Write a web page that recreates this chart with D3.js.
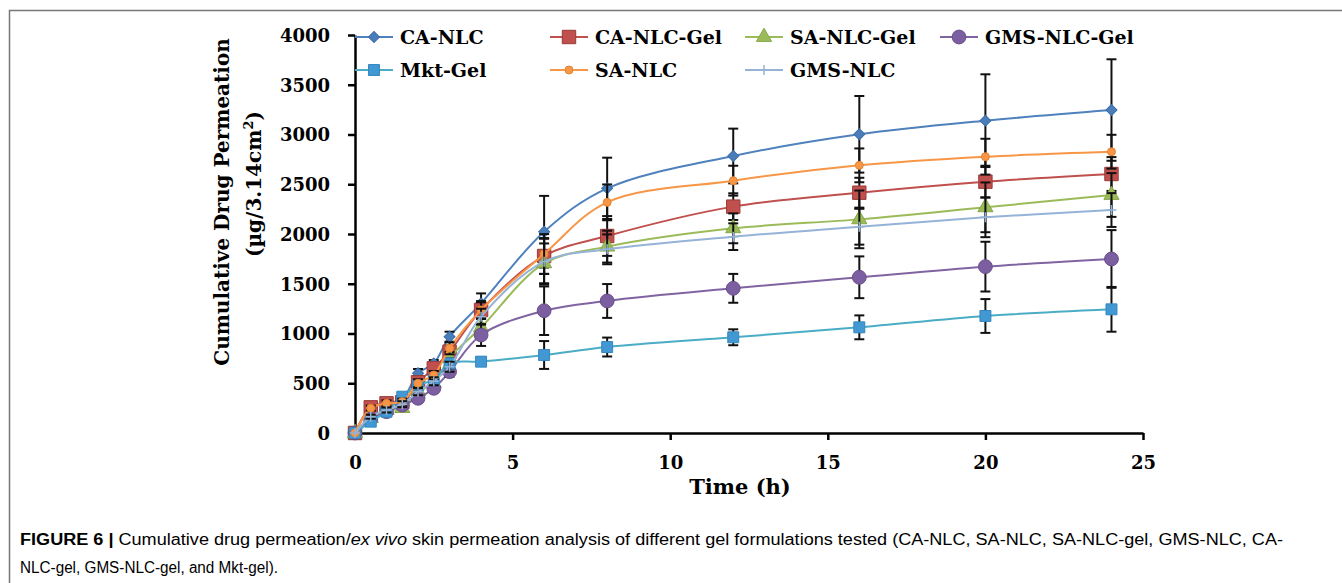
<!DOCTYPE html>
<html>
<head>
<meta charset="utf-8">
<script src="https://cdn.jsdelivr.net/npm/d3@7"></script>
<style>
  body { margin: 0; background: #ffffff; }
  svg text { fill: #000; }
</style>
</head>
<body>
<div id="container"></div>
<script>
  // data
  const times = [0, 0.5, 1, 1.5, 2, 2.5, 3, 4, 6, 8, 12, 16, 20, 24]
  const xTicks = [0, 5, 10, 15, 20, 25]
  const yTicks = [0, 500, 1000, 1500, 2000, 2500, 3000, 3500, 4000]

  const caNlc = [0, 250, 300, 340, 600, 700, 968, 1303, 2023, 2459, 2784, 3002, 3139, 3246]
  const caNlcGel = [0, 258, 298, 310, 510, 650, 817, 1236, 1779, 1980, 2275, 2415, 2526, 2603]
  const saNlcGel = [0, 150, 230, 250, 420, 500, 754, 1060, 1705, 1873, 2057, 2147, 2268, 2392]
  const gmsNlcGel = [0, 140, 214, 281, 349, 449, 616, 985, 1229, 1327, 1454, 1565, 1672, 1749]
  const mktGel = [0, 114, 214, 365, 482, 533, 700, 717, 784, 864, 962, 1062, 1176, 1243]
  const saNlc = [0, 250, 298, 315, 500, 583, 851, 1236, 1799, 2318, 2536, 2690, 2777, 2827]
  const gmsNlc = [0, 164, 231, 290, 415, 520, 666, 1169, 1722, 1846, 1973, 2073, 2168, 2241]

  const caNlcErr = [0, 30, 30, 40, 43, 33, 50, 100, 360, 308, 275, 385, 466, 510]
  const caNlcGelErr = [0, 30, 30, 35, 40, 50, 60, 90, 180, 200, 134, 150, 160, 170]
  const saNlcGelErr = [0, 20, 25, 30, 35, 40, 60, 90, 200, 160, 150, 290, 250, 220]
  const gmsNlcGelErr = [0, 20, 25, 30, 35, 40, 50, 110, 244, 170, 145, 210, 250, 290]
  const mktGelErr = [0, 20, 25, 30, 35, 40, 50, 40, 140, 95, 80, 120, 170, 225]
  const saNlcErr = [0, 25, 30, 30, 40, 40, 60, 80, 200, 180, 150, 170, 180, 170]
  const gmsNlcErr = [0, 20, 25, 30, 35, 40, 50, 80, 230, 150, 134, 180, 200, 170]

  const seriesNames = ['CA-NLC', 'CA-NLC-Gel', 'SA-NLC-Gel', 'GMS-NLC-Gel', 'Mkt-Gel', 'SA-NLC', 'GMS-NLC']
  const seriesValues = [caNlc, caNlcGel, saNlcGel, gmsNlcGel, mktGel, saNlc, gmsNlc]
  const seriesErrors = [caNlcErr, caNlcGelErr, saNlcGelErr, gmsNlcGelErr, mktGelErr, saNlcErr, gmsNlcErr]

  // styles per series
  const styles = [
    { line: '#4f81bd', fill: '#4a7ebb', stroke: '#3d6da8', shape: 'diamond', size: 60 },
    { line: '#c0504d', fill: '#c0504d', stroke: '#9a3a37', shape: 'square', size: 180 },
    { line: '#9bbb59', fill: '#9bbb59', stroke: '#87a84a', shape: 'triangle', size: 100 },
    { line: '#8064a2', fill: '#7c5fa0', stroke: '#694e8a', shape: 'circle', size: 150 },
    { line: '#4bacc6', fill: '#4198d2', stroke: '#3488c0', shape: 'square', size: 120 },
    { line: '#f79646', fill: '#f79646', stroke: '#e5842f', shape: 'circle', size: 50 },
    { line: '#95b3d7', fill: 'none', stroke: '#95b3d7', shape: 'plus', size: 5 }
  ]

  const width = 1342
  const height = 583
  const serif = '"DejaVu Serif", serif'

  const svg = d3.select('#container')
    .append('svg')
    .attr('width', width)
    .attr('height', height)
    .style('background', '#ffffff')

  // figure frame (top + left edge)
  svg.append('path')
    .attr('d', `M9.5,${height}V10.5H${width}`)
    .attr('fill', 'none')
    .attr('stroke', '#777')
    .attr('stroke-width', 1.5)

  const xScale = d3.scaleLinear().domain([0, 25]).range([355, 1143])
  const yScale = d3.scaleLinear().domain([0, 4000]).range([433, 35])

  // axes
  const xAxis = svg.append('g')
    .attr('transform', `translate(0, ${yScale(0)})`)
    .call(d3.axisBottom(xScale).tickValues(xTicks).tickFormat(d3.format('d'))
      .tickSize(7).tickSizeOuter(0).tickPadding(16))
  const yAxis = svg.append('g')
    .attr('transform', `translate(${xScale(0)}, 0)`)
    .call(d3.axisLeft(yScale).tickValues(yTicks).tickFormat(d3.format('d'))
      .tickSize(7).tickSizeOuter(0).tickPadding(18))

  for (const ax of [xAxis, yAxis]) {
    ax.select('.domain').attr('stroke', '#000').attr('stroke-width', 2.5)
    ax.selectAll('.tick line').attr('stroke', '#000').attr('stroke-width', 2.5)
    ax.selectAll('.tick text')
      .attr('font-family', serif)
      .attr('font-weight', 'bold')
      .attr('font-size', 18)
      .attr('fill', '#000')
  }
  yAxis.selectAll('.tick text').attr('dy', '0.36em')

  // axis titles
  svg.append('text')
    .attr('x', 740)
    .attr('y', 494)
    .attr('text-anchor', 'middle')
    .attr('font-family', serif)
    .attr('font-weight', 'bold')
    .attr('font-size', 21)
    .text('Time (h)')

  svg.append('text')
    .attr('transform', 'translate(229, 202) rotate(-90)')
    .attr('text-anchor', 'middle')
    .attr('font-family', serif)
    .attr('font-weight', 'bold')
    .attr('font-size', 20)
    .text('Cumulative Drug Permeation')

  const yTitle2 = svg.append('text')
    .attr('transform', 'translate(261, 184) rotate(-90)')
    .attr('text-anchor', 'middle')
    .attr('font-family', serif)
    .attr('font-weight', 'bold')
    .attr('font-size', 20)
  yTitle2.append('tspan').text('(µg/3.14cm')
  yTitle2.append('tspan').attr('dy', -8).attr('font-size', 13).text('2')
  yTitle2.append('tspan').attr('dy', 8).text(')')

  const symbolPath = (st) => {
    if (st.shape === 'plus') return `M${-st.size},0H${st.size}M0,${-st.size}V${st.size}`
    const type = { diamond: d3.symbolSquare, square: d3.symbolSquare, triangle: d3.symbolTriangle, circle: d3.symbolCircle }[st.shape]
    return d3.symbol().type(type).size(st.size)()
  }
  const markRotate = (st) => (st.shape === 'diamond' ? ' rotate(45)' : '')

  const line = d3.line()
    .x((d) => xScale(d.t))
    .y((d) => yScale(d.v))
    .curve(d3.curveCatmullRom.alpha(0.5))

  const plot = svg.append('g')

  seriesNames.forEach((name, i) => {
    const st = styles[i]
    const pts = times.map((t, j) => ({ t: t, v: seriesValues[i][j], e: seriesErrors[i][j] }))
    const g = plot.append('g').attr('class', 'series')

    g.append('path')
      .datum(pts)
      .attr('d', line)
      .attr('fill', 'none')
      .attr('stroke', st.line)
      .attr('stroke-width', 2)

    // error bars
    const eb = g.selectAll('.err')
      .data(pts.filter((d) => d.e > 0))
      .enter()
      .append('g')
      .attr('class', 'err')
    eb.append('line')
      .attr('x1', (d) => xScale(d.t))
      .attr('x2', (d) => xScale(d.t))
      .attr('y1', (d) => yScale(d.v - d.e))
      .attr('y2', (d) => yScale(d.v + d.e))
      .attr('stroke', '#111')
      .attr('stroke-width', 2)
    for (const sgn of [1, -1]) {
      eb.append('line')
        .attr('x1', (d) => xScale(d.t) - 5)
        .attr('x2', (d) => xScale(d.t) + 5)
        .attr('y1', (d) => yScale(d.v + sgn * d.e))
        .attr('y2', (d) => yScale(d.v + sgn * d.e))
        .attr('stroke', '#111')
        .attr('stroke-width', 2)
    }

    g.selectAll('.mark')
      .data(pts)
      .enter()
      .append('path')
      .attr('class', 'mark')
      .attr('transform', (d) => `translate(${xScale(d.t)}, ${yScale(d.v)})${markRotate(st)}`)
      .attr('d', symbolPath(st))
      .attr('fill', st.fill)
      .attr('stroke', st.stroke)
      .attr('stroke-width', st.shape === 'plus' ? 1.5 : 1)
  })

  // legend
  const legendX = [355, 550, 745, 940]
  const legendY = [37, 70]
  seriesNames.forEach((name, i) => {
    const st = styles[i]
    const lx = legendX[i % 4]
    const ly = legendY[Math.floor(i / 4)]
    const lg = svg.append('g').attr('transform', `translate(${lx}, ${ly})`)
    lg.append('line')
      .attr('x1', 0).attr('x2', 38)
      .attr('stroke', st.line)
      .attr('stroke-width', 2)
    lg.append('path')
      .attr('transform', `translate(19, 0)${markRotate(st)}`)
      .attr('d', symbolPath(st))
      .attr('fill', st.fill)
      .attr('stroke', st.stroke)
      .attr('stroke-width', st.shape === 'plus' ? 1.5 : 1)
    lg.append('text')
      .attr('x', 45)
      .attr('dy', '0.36em')
      .attr('font-family', serif)
      .attr('font-weight', 'bold')
      .attr('font-size', 19)
      .text(name)
  })

  // caption
  const sans = '"Liberation Sans", Arial, sans-serif'
  const cap1 = svg.append('text')
    .attr('x', 20)
    .attr('y', 545)
    .attr('font-family', sans)
    .attr('font-size', 16)
    .attr('fill', '#222')
    .attr('textLength', 1263)
    .attr('lengthAdjust', 'spacingAndGlyphs')
  cap1.append('tspan').attr('font-weight', 'bold').text('FIGURE 6 | ')
  cap1.append('tspan').text('Cumulative drug permeation/')
  cap1.append('tspan').attr('font-style', 'italic').text('ex vivo')
  cap1.append('tspan').text(' skin permeation analysis of different gel formulations tested (CA-NLC, SA-NLC, SA-NLC-gel, GMS-NLC, CA-')

  svg.append('text')
    .attr('x', 20)
    .attr('y', 573)
    .attr('font-family', sans)
    .attr('font-size', 16)
    .attr('fill', '#222')
    .attr('textLength', 258)
    .attr('lengthAdjust', 'spacingAndGlyphs')
    .text('NLC-gel, GMS-NLC-gel, and Mkt-gel).')
</script>
</body>
</html>
